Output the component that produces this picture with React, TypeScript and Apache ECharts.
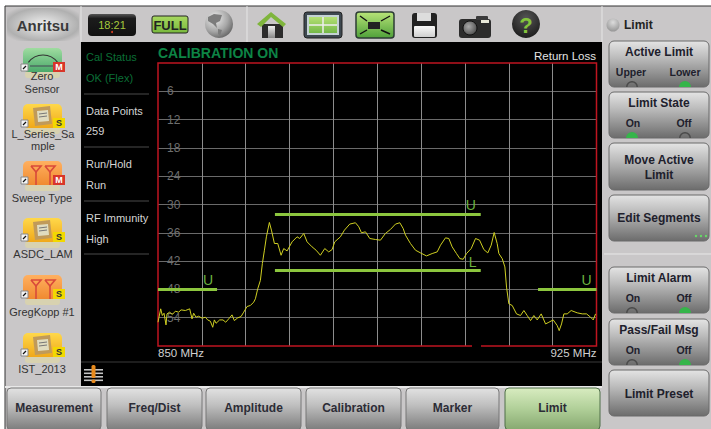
import React, { useEffect, useRef } from "react";
import * as echarts from "echarts";

const START_MHZ = 850;
const STOP_MHZ = 925;
const STEP_MHZ = 7.5;
const lossTicks = [6, 12, 18, 24, 30, 36, 42, 48, 54];

const traceFreq = [
  850.0, 850.17, 850.46, 850.74, 851.03, 851.37, 851.54, 852.0, 852.45, 852.97, 853.54, 853.94, 854.68, 855.42, 855.82,
  856.1, 856.5, 856.96, 857.53, 858.1, 858.5, 858.96, 859.36, 859.64, 859.93, 860.55, 861.12, 861.58, 862.09, 862.66,
  863.06, 863.63, 864.2, 864.66, 865.23, 865.8, 866.37, 866.66, 867.06, 867.51, 867.85, 868.2, 868.54, 869.05, 869.4,
  869.91, 870.48, 871.05, 871.5, 872.08, 872.93, 873.79, 874.24, 874.93, 875.5, 876.35, 877.04, 877.78, 878.52, 879.2,
  879.78, 880.23, 881.2, 881.89, 882.8, 883.77, 884.34, 884.8, 885.48, 886.22, 887.19, 888.05, 888.9, 889.76, 890.62,
  891.36, 891.93, 892.33, 893.18, 894.04, 894.9, 895.92, 896.89, 897.75, 898.32, 899.17, 899.74, 900.31, 901.05,
  901.63, 902.2, 902.77, 903.57, 904.31, 905.0, 905.73, 906.41, 906.99, 907.5, 908.01, 908.3, 908.87, 909.33, 909.61,
  910.01, 910.58, 911.32, 912.0, 912.58, 913.15, 913.72, 914.29, 914.86, 915.54, 916.29, 916.86, 917.6, 918.28,
  918.62, 919.02, 919.42, 919.99, 920.67, 921.7, 922.56, 923.3, 923.99, 924.44, 924.84,
];
const traceLoss = [
  54.96, 53.9, 52.12, 53.54, 53.05, 55.53, 53.19, 52.83, 53.33, 52.62, 52.83, 52.34, 52.48, 52.12, 54.25,
  53.05, 53.9, 53.68, 54.11, 53.9, 54.47, 54.75, 56.03, 54.47, 55.18, 54.47, 54.47, 54.96, 54.25, 53.4,
  54.61, 54.04, 53.76, 52.83, 51.63, 51.41, 50.7, 49.99, 47.86, 46.09, 42.53, 39.69, 36.85, 33.8, 35.43,
  38.27, 38.27, 40.76, 39.34, 39.84, 37.92, 36.85, 37.21, 36.14, 37.92, 38.98, 39.69, 40.76, 39.34, 40.05,
  39.55, 37.92, 36.85, 35.43, 34.15, 33.87, 34.72, 36.0, 35.79, 37.21, 37.42, 37.56, 36.14, 35.29, 34.15,
  33.87, 35.08, 36.5, 38.27, 39.69, 40.26, 40.9, 40.4, 40.05, 38.63, 37.07, 37.21, 38.98, 40.4,
  41.47, 41.61, 40.4, 39.34, 37.21, 37.56, 39.55, 40.26, 38.63, 35.93, 38.27, 40.4, 41.47, 43.24, 47.51,
  51.06, 51.41, 53.19, 53.54, 52.48, 53.54, 54.61, 53.54, 54.47, 53.19, 55.32, 54.96, 54.47, 55.67,
  56.74, 55.32, 53.19, 53.19, 52.48, 52.97, 53.19, 53.19, 53.9, 54.47, 53.19,
];

const limitLeftFreq = [850, 860.1];
const limitLeftLoss = [48, 48];
const limitUpperFreq = [870, 905.2];
const limitUpperLoss = [32.1, 32.1];
const limitLowerFreq = [870, 905.2];
const limitLowerLoss = [44, 44];
const limitRightFreq = [915, 925];
const limitRightLoss = [48, 48];

const tabNames = ["Measurement", "Freq/Dist", "Amplitude", "Calibration", "Marker", "Limit"];

const FONT = "Liberation Sans, Arial, sans-serif";
const vGrad = (stops: [number, string][]) =>
  new echarts.graphic.LinearGradient(0, 0, 0, 1, stops.map(([offset, color]) => ({ offset, color })));
const radGrad = (x: number, y: number, r: number, stops: [number, string][]) =>
  new echarts.graphic.RadialGradient(x, y, r, stops.map(([offset, color]) => ({ offset, color })));

const Z = -1;
const rect = (x: number, y: number, w: number, h: number, fill: any, r = 0, stroke?: string, lw = 1) => ({
  type: "rect", z: Z, silent: true,
  shape: { x, y, width: w, height: h, r },
  style: { fill, stroke: stroke ?? "none", lineWidth: lw },
});
const txt = (text: string, x: number, y: number, size: number, fill: string, weight = "normal", align = "left") => ({
  type: "text", z: Z, silent: true, x, y,
  style: { text, fill, font: `${weight} ${size}px ${FONT}`, textAlign: align, textVerticalAlign: "middle" },
});
const poly = (points: number[][], fill: string) => ({
  type: "polygon", z: Z, silent: true, shape: { points }, style: { fill },
});
const pline = (points: number[][], stroke: string, lw = 1) => ({
  type: "polyline", z: Z, silent: true, shape: { points }, style: { stroke, lineWidth: lw, fill: "none" },
});
const circ = (cx: number, cy: number, r: number, fill: any, stroke?: string) => ({
  type: "circle", z: Z, silent: true, shape: { cx, cy, r }, style: { fill, stroke: stroke ?? "none" },
});
const led = (cx: number, cy: number, on: boolean) => ({
  type: "sector", z: Z, silent: true,
  shape: { cx, cy, r: 6, r0: on ? 0 : 4.5, startAngle: Math.PI, endAngle: Math.PI * 2 },
  style: { fill: on ? "#35b54a" : "#4a4a4a" },
});

function sidebarIcon(y: number, kind: "gauge" | "folder" | "antenna", badge: "M" | "S") {
  const out: any[] = [];
  const x = 23, w = 39, h = 24;
  const palette =
    kind === "gauge"
      ? ["#9fdca0", "#4aa96a"]
      : kind === "folder"
      ? ["#ffd84a", "#f0a81a"]
      : ["#ffb060", "#f08a30"];
  out.push(rect(x + 2, y + h - 1, w - 4, 7, "#d8d2b0", 3));
  out.push(rect(x, y, w, h, vGrad([[0, palette[0]], [1, palette[1]]]), 5));
  if (kind === "folder") {
    out.push(poly([[33, y + 4], [50, y + 2], [52, y + 20], [35, y + 22]], "#c09a5a"));
    out.push(poly([[37, y + 7], [48, y + 6], [49, y + 17], [38, y + 18]], "#e0dcc0"));
    out.push(pline([[39, y + 10], [47, y + 9]], "#777"));
    out.push(pline([[39, y + 13], [47, y + 12]], "#777"));
  } else if (kind === "antenna") {
    [36, 50].forEach((c) => {
      out.push(pline([[c - 5, y + 5], [c, y + 11], [c + 5, y + 5], [c - 5, y + 5]], "#d94a3a", 1.6));
      out.push(pline([[c, y + 11], [c, y + 24]], "#d94a3a", 1.6));
    });
  } else {
    out.push({
      type: "arc", z: Z, silent: true,
      shape: { cx: 43, cy: y + 25, r: 18, startAngle: Math.PI * 1.2, endAngle: Math.PI * 1.8 },
      style: { stroke: "#333", lineWidth: 1.2, fill: "none" },
    });
    out.push(pline([[30, y + 18], [54, y + 18]], "#445", 1));
  }
  out.push(rect(21, y + 16, 7, 7, "#f4f4f4", 0, "#888"));
  out.push(pline([[23, y + 21], [26, y + 18]], "#111", 1.2));
  out.push(rect(53, y + 14, 12, 10, badge === "M" ? "#d8362a" : "#f2d800"));
  out.push(txt(badge, 59, y + 19, 9, badge === "M" ? "#fff" : "#333", "bold", "center"));
  return out;
}

function softButton(x: number, y: number, w: number, h: number) {
  return rect(x, y, w, h, vGrad([[0, "#e4e4e4"], [0.35, "#bdbdbd"], [1, "#6c6c6c"]]), 5, "#6a6a6a");
}

function chrome() {
  const e: any[] = [];
  e.push(rect(0, 0, 711, 429, "#ffffff"));
  e.push(rect(5, 6, 706, 423, "#c9c7c8"));
  e.push(pline([[5, 6], [711, 6]], "#333", 1));
  e.push(pline([[5, 6], [5, 429]], "#333", 1));
  e.push(rect(81, 42, 521, 344, "#000000"));
  e.push(pline([[81, 6], [81, 42]], "#e6e6e6", 1));
  e.push(pline([[247, 6], [247, 42]], "#e6e6e6", 1));
  e.push(pline([[602, 6], [602, 42]], "#e6e6e6", 1));
  e.push(rect(5, 386, 597, 2, "#e8e8e8"));

  // header
  e.push(rect(7, 8, 72, 33, radGrad(0.5, 0.5, 0.62, [[0, "#f0f0f0"], [0.55, "#c4c4c4"], [0.8, "#b0b0b0"], [1, "#c9c7c8"]])));
  e.push(txt("Anritsu", 43, 25, 15, "#3a3a3a", "bold", "center"));
  e.push(rect(88, 14, 48, 22, vGrad([[0, "#555"], [0.2, "#1c1c1c"], [1, "#111"]]), 4));
  e.push(txt("18:21", 112, 25, 11, "#a6c83c", "normal", "center"));
  e.push(circ(112, 32, 1, "#e04020"));
  e.push(rect(152, 16, 36, 17, vGrad([[0, "#a8d860"], [1, "#78b83c"]]), 2, "#222"));
  e.push(txt("FULL", 170, 25, 13, "#222", "bold", "center"));
  e.push(circ(219, 24, 14, radGrad(0.35, 0.3, 0.85, [[0, "#eeeeee"], [0.55, "#a6a6a6"], [1, "#505050"]])));
  e.push(poly([[208, 17], [214, 14], [222, 15], [220, 21], [216, 23], [217, 28], [213, 24], [208, 21]], "#7c7c7c"));
  e.push(poly([[218, 29], [222, 30], [220, 36], [218, 34]], "#7c7c7c"));
  // home
  e.push(poly([[262, 24], [283, 24], [283, 38], [262, 38]], "#2c2c2c"));
  e.push(rect(268, 26, 7, 12, vGrad([[0, "#eee"], [1, "#888"]])));
  e.push(poly([[271, 12], [286, 24], [283, 27], [271, 17], [261, 27], [257, 24]], "#7fb53c"));
  // layout
  e.push(rect(304, 12, 38, 26, "#3e4850", 3, "#222", 1));
  e.push(rect(307, 15, 32, 20, "#c4d2d4"));
  e.push(rect(309, 17, 28, 16, vGrad([[0, "#b4e074"], [1, "#74b848"]])));
  e.push(pline([[309, 25], [337, 25]], "#eee", 1.5));
  e.push(pline([[323, 17], [323, 33]], "#eee", 1.5));
  // expand
  e.push(rect(356, 12, 38, 26, vGrad([[0, "#b8e478"], [1, "#4fa03a"]]), 3, "#2c3c34", 1.5));
  e.push(rect(368, 22, 12, 7, "#222"));
  [[360, 16, 367, 21], [390, 16, 381, 21], [360, 34, 367, 30], [390, 34, 381, 30]].forEach((p) =>
    e.push(pline([[p[0], p[1]], [p[2], p[3]]], "#111", 1.4))
  );
  // floppy
  e.push(rect(412, 13, 25, 25, "#222", 3));
  e.push(rect(417, 13, 14, 8, "#ddd"));
  e.push(rect(414, 26, 21, 11, vGrad([[0, "#fafafa"], [1, "#cfcfcf"]]), 1));
  // camera
  e.push(rect(459, 19, 32, 19, "#2c2c2c", 3));
  e.push(rect(476, 16, 12, 4, "#3a3a3a", 1));
  e.push(circ(470, 28, 7, radGrad(0.4, 0.4, 0.6, [[0, "#aaa"], [1, "#555"]]), "#111"));
  e.push(rect(481, 20, 8, 3, "#e8e8d8"));
  // help
  e.push(circ(526, 24, 14, radGrad(0.5, 0.3, 0.8, [[0, "#555"], [1, "#151515"]])));
  e.push(txt("?", 526, 25, 22, "#84c43c", "bold", "center"));

  // sidebar
  e.push(...sidebarIcon(48, "gauge", "M"));
  e.push(txt("Zero", 42, 76, 11, "#333", "normal", "center"));
  e.push(txt("Sensor", 42, 89, 11, "#333", "normal", "center"));
  e.push(...sidebarIcon(104, "folder", "S"));
  e.push(txt("L_Series_Sa", 43, 134, 11, "#333", "normal", "center"));
  e.push(txt("mple", 43, 146, 11, "#333", "normal", "center"));
  e.push(...sidebarIcon(161, "antenna", "M"));
  e.push(txt("Sweep Type", 42, 198, 11, "#333", "normal", "center"));
  e.push(...sidebarIcon(218, "folder", "S"));
  e.push(txt("ASDC_LAM", 43, 254, 11, "#333", "normal", "center"));
  e.push(...sidebarIcon(275, "antenna", "S"));
  e.push(txt("GregKopp #1", 42, 312, 11, "#333", "normal", "center"));
  e.push(...sidebarIcon(333, "folder", "S"));
  e.push(txt("IST_2013", 42, 369, 11, "#333", "normal", "center"));

  // status panel
  e.push(txt("Cal Status", 86, 57, 11, "#0b6e36"));
  e.push(txt("OK (Flex)", 86, 78, 11, "#0b6e36"));
  e.push(txt("Data Points", 86, 111, 11, "#d4d4d4"));
  e.push(txt("259", 86, 131, 11, "#d4d4d4"));
  e.push(txt("Run/Hold", 86, 164, 11, "#d4d4d4"));
  e.push(txt("Run", 86, 185, 11, "#d4d4d4"));
  e.push(txt("RF Immunity", 86, 218, 11, "#d4d4d4"));
  e.push(txt("High", 86, 239, 11, "#d4d4d4"));
  [94, 147, 201, 254].forEach((y) => e.push(pline([[84, y], [149, y]], "#4a4a4a", 1)));
  e.push(txt("CALIBRATION ON", 158, 53, 14, "#0d8445", "bold"));
  e.push(txt("Return Loss", 596, 56, 11.5, "#e4e4e4", "normal", "right"));
  e.push(pline([[81, 362], [602, 362]], "#3a3a3a", 1));
  // alert icon
  [369, 372.5, 376, 379.5].forEach((y) => e.push(rect(84, y, 19, 1.6, "#c4c4c4")));
  e.push(rect(91.5, 365, 4, 13, "#e88a1c", 1.5));
  e.push(rect(91.5, 379.5, 4, 3.5, "#e88a1c", 1.5));

  // tabs
  const tabX = [7, 107, 206, 306, 406, 505];
  const tabW = [94, 95, 95, 95, 93, 95];
  tabNames.forEach((name, i) => {
    const active = name === "Limit";
    e.push(
      rect(tabX[i], 388, tabW[i], 42,
        active
          ? vGrad([[0, "#d8ecc0"], [0.5, "#b0cf98"], [1, "#86a870"]])
          : vGrad([[0, "#e2e2e2"], [0.4, "#c0c0c0"], [1, "#7c7c7c"]]),
        4, active ? "#4f6f48" : "#777")
    );
    e.push(txt(name, tabX[i] + tabW[i] / 2, 408, 12, "#2c2c36", "bold", "center"));
  });

  // right panel
  e.push(circ(613, 25, 6.5, radGrad(0.5, 0.3, 0.8, [[0, "#dcdcdc"], [1, "#8c8c8c"]])));
  e.push(txt("Limit", 624, 25, 12, "#222", "bold"));
  const X = 609, W = 100;
  const toggle = (y: number, h: number, title: string, a: string, b: string, aOn: boolean) => {
    e.push(softButton(X, y, W, h));
    e.push(txt(title, 659, y + 11, 12, "#20202c", "bold", "center"));
    e.push(txt(a, a === "Upper" ? 631 : 633, y + 31, 10.5, "#20202c", "bold", "center"));
    e.push(txt(b, b === "Lower" ? 685 : 684, y + 31, 10.5, "#20202c", "bold", "center"));
    e.push(led(632, y + h, aOn));
    e.push(led(685, y + h, !aOn));
  };
  toggle(41, 46, "Active Limit", "Upper", "Lower", false);
  toggle(92, 46, "Limit State", "On", "Off", true);
  e.push(softButton(X, 143, W, 47));
  e.push(txt("Move Active", 659, 160, 12, "#20202c", "bold", "center"));
  e.push(txt("Limit", 659, 175, 12, "#20202c", "bold", "center"));
  e.push(softButton(X, 195, W, 46));
  e.push(txt("Edit Segments", 659, 218, 12, "#20202c", "bold", "center"));
  [696, 701, 706].forEach((x) => e.push(circ(x, 236, 1.2, "#66dd66")));
  e.push(pline([[604, 254], [711, 254]], "#e8e8e8", 1));
  toggle(267, 46, "Limit Alarm", "On", "Off", false);
  toggle(319, 46, "Pass/Fail Msg", "On", "Off", false);
  e.push(softButton(X, 370, W, 46));
  e.push(txt("Limit Preset", 659, 394, 12, "#20202c", "bold", "center"));

  // gap in the bottom of the frame
  e.push({ ...rect(472, 344, 9, 4, "#000"), z: 10 });
  return e;
}

const toXY = (fs: number[], vs: number[]) => fs.map((f, i) => [f - START_MHZ, vs[i]]);

function limitSeries(fs: number[], vs: number[], label: string, offset: number[]) {
  const pts = toXY(fs, vs);
  return {
    type: "line", symbol: "none", silent: true,
    lineStyle: { color: "#8cc63e", width: 3 }, z: 3,
    data: [
      pts[0],
      {
        value: pts[1],
        symbol: "circle", symbolSize: 0,
        label: {
          show: true, formatter: label, position: "top", offset,
          color: "#6cb33f", fontSize: 14, fontFamily: FONT,
        },
      },
    ],
  };
}

export default function App() {
  const ref = useRef<HTMLDivElement>(null);
  useEffect(() => {
    document.body.style.margin = "0";
    document.body.style.background = "#fff";
    const chart = echarts.init(ref.current!, undefined, { renderer: "svg" });
    chart.setOption({
      animation: false,
      backgroundColor: "transparent",
      graphic: { elements: chrome() },
      grid: {
        show: true, left: 158, right: 114.5, top: 63, bottom: 83, z: 1,
        borderColor: "#bf1520", borderWidth: 1.5, backgroundColor: "transparent", containLabel: false,
      },
      xAxis: {
        type: "value", min: 0, max: STOP_MHZ - START_MHZ, interval: STEP_MHZ,
        axisLine: { show: false }, axisTick: { show: false },
        splitLine: { show: true, showMinLine: false, showMaxLine: false, lineStyle: { color: "#8c8c8c", width: 1 } },
        axisLabel: {
          show: true, margin: 1, color: "#d0d0d0", fontSize: 11.5, fontFamily: FONT,
          alignMinLabel: "left", alignMaxLabel: "right",
          formatter: (v: number) =>
            v === 0 ? `${START_MHZ} MHz` : v === STOP_MHZ - START_MHZ ? `${STOP_MHZ} MHz` : "",
        },
      },
      yAxis: {
        type: "value", inverse: true, min: 0, max: 60, interval: 6,
        axisLine: { show: false }, axisTick: { show: false },
        splitLine: { show: true, showMinLine: false, showMaxLine: false, lineStyle: { color: "#6a6a6a", width: 1 } },
        axisLabel: {
          inside: true, margin: 9, color: "#6e6e6e", fontSize: 12, fontFamily: FONT,
          formatter: (v: number) => (lossTicks.includes(v) ? String(v) : ""),
        },
      },
      series: [
        limitSeries(limitLeftFreq, limitLeftLoss, "U", [-9, 3]),
        limitSeries(limitUpperFreq, limitUpperLoss, "U", [-10, 3]),
        limitSeries(limitLowerFreq, limitLowerLoss, "L", [-8, 3]),
        limitSeries(limitRightFreq, limitRightLoss, "U", [-10, 3]),
        {
          type: "line", symbol: "none", silent: true, z: 4,
          lineStyle: { color: "#cfcf22", width: 1 },
          data: toXY(traceFreq, traceLoss),
        },
      ],
    });
    return () => chart.dispose();
  }, []);
  return <div ref={ref} style={{ width: 711, height: 429 }} />;
}
